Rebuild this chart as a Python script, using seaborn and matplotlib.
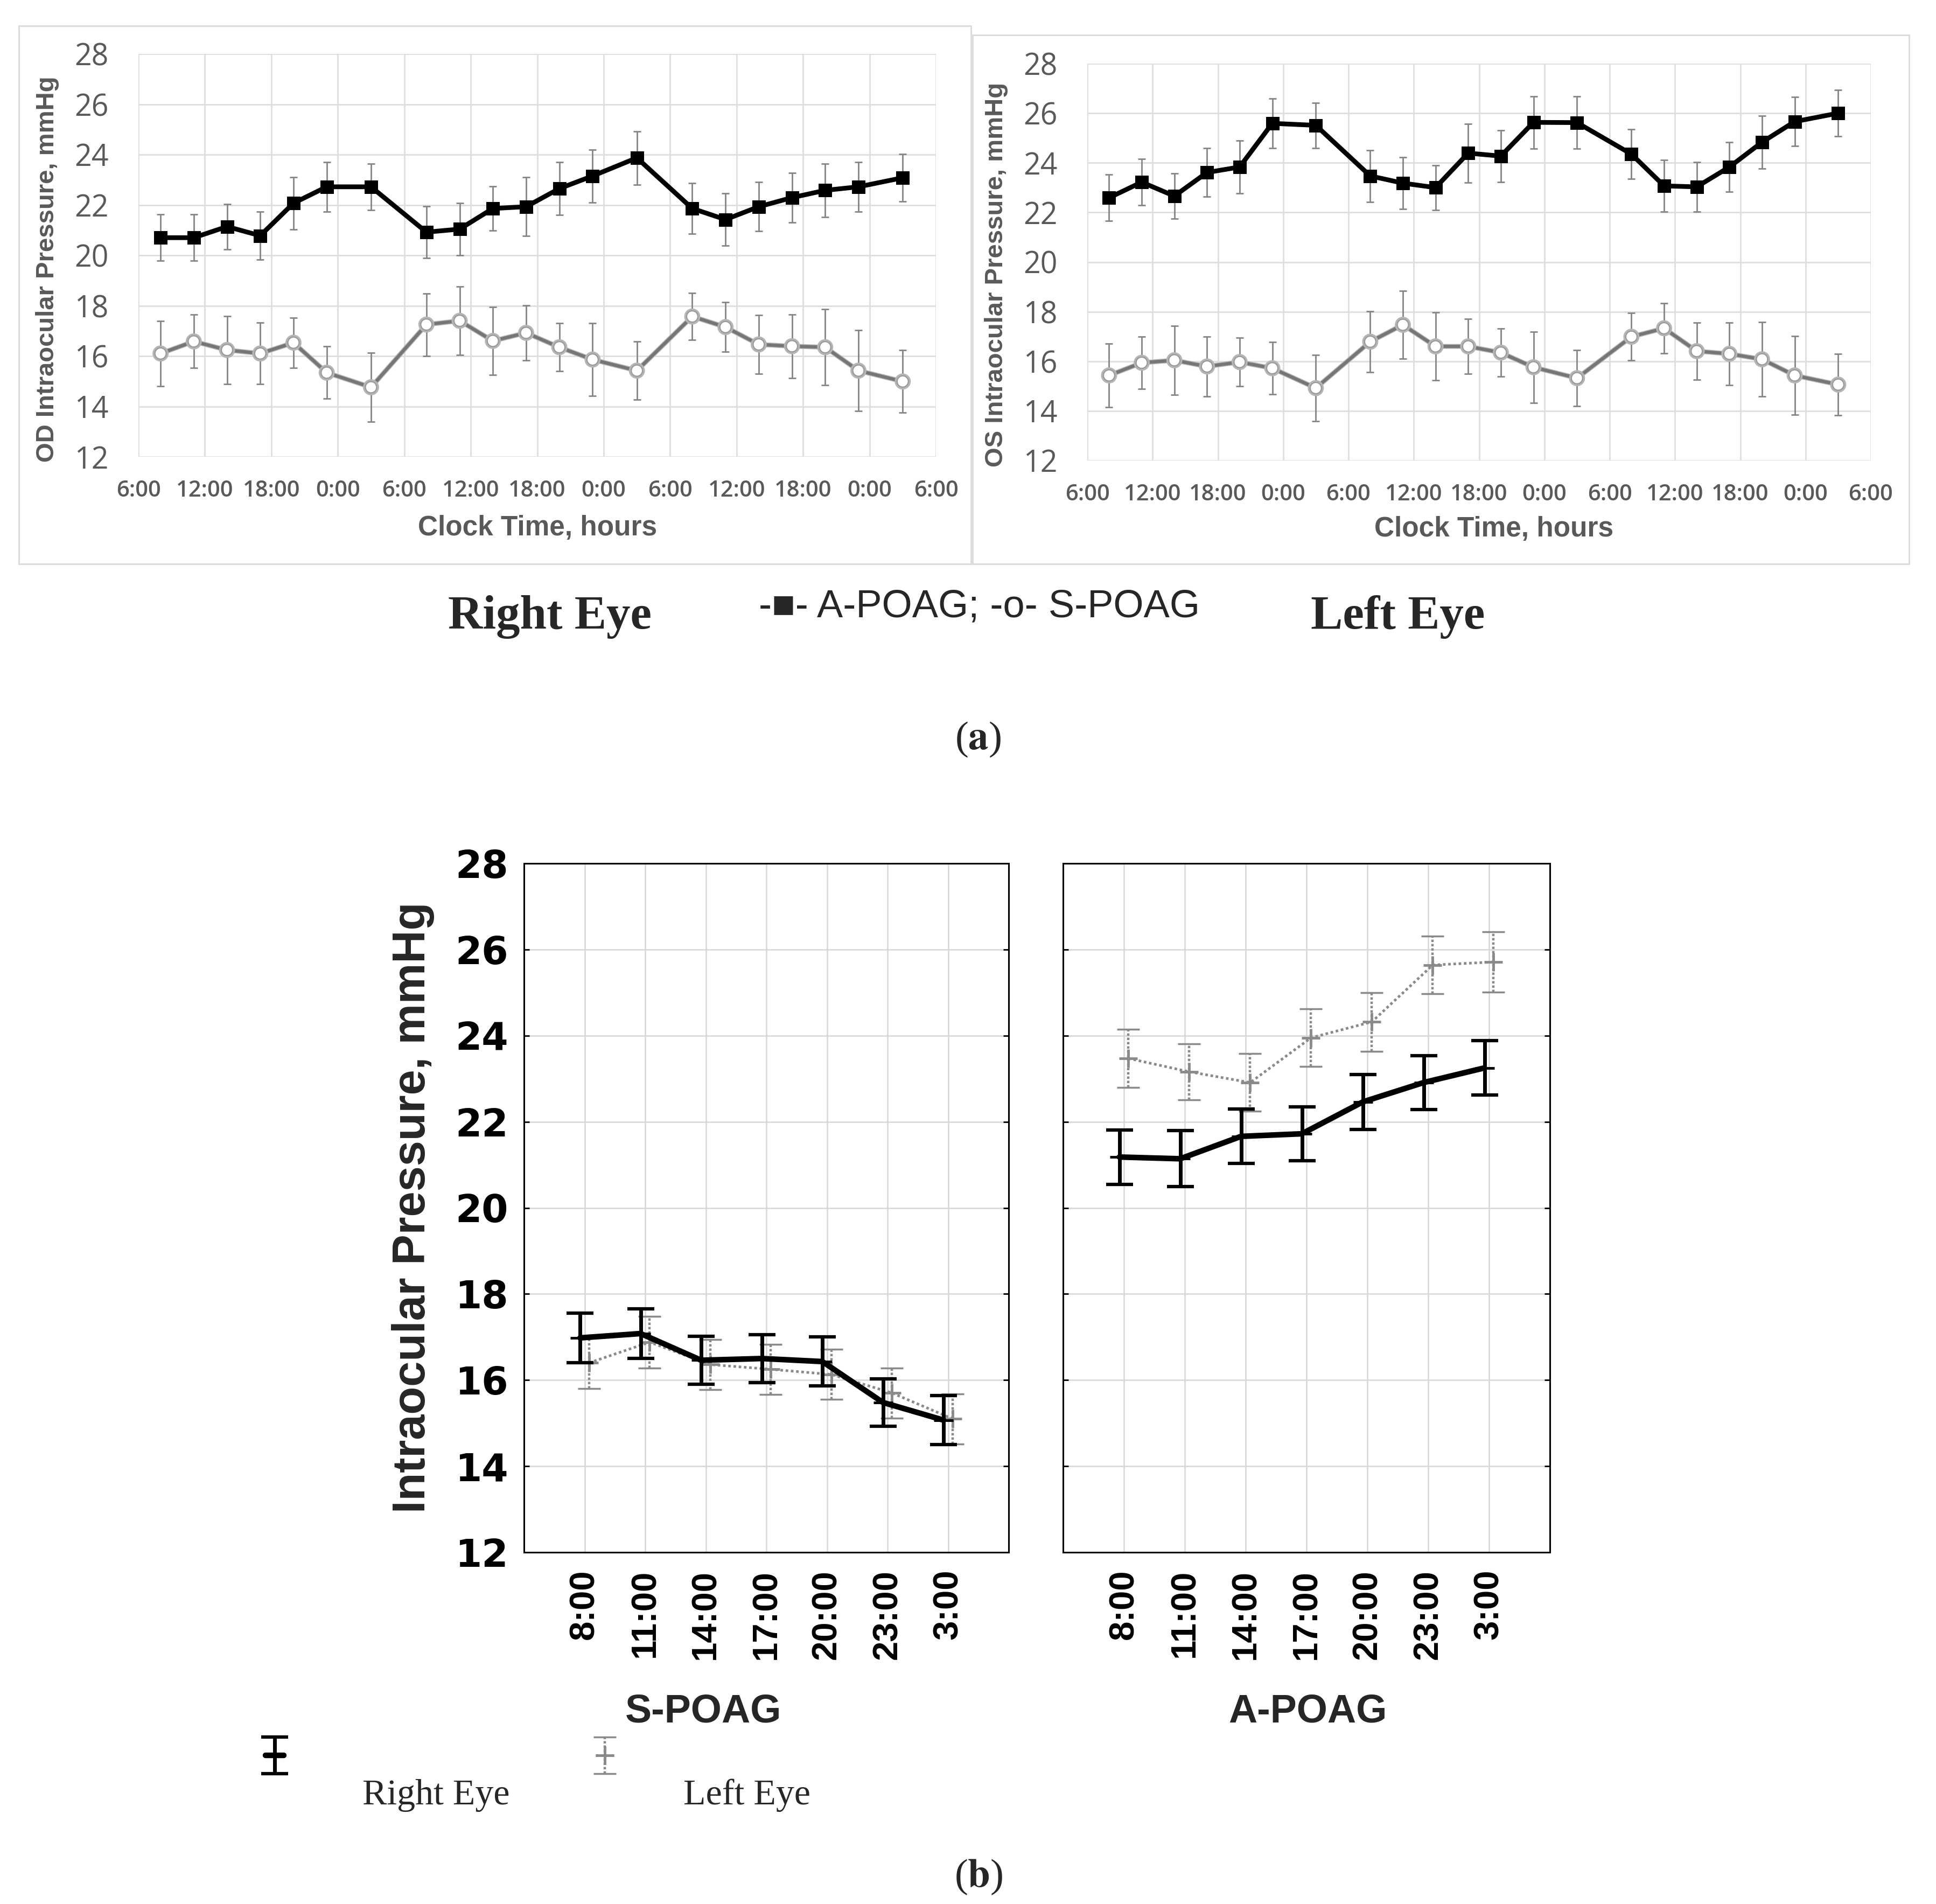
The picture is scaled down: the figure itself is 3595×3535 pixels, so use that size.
import numpy as np
import matplotlib
matplotlib.use("Agg")
import matplotlib.pyplot as plt
import matplotlib.patheffects as pe
from matplotlib.patches import Rectangle
from matplotlib.legend_handler import HandlerTuple
import seaborn as sns

# ---------------- data: panel (a) ----------------
# hours elapsed since 6:00 of day 1 (8:00, 11:00, 14:00, 17:00, 20:00, 23:00, 3:00 on 3 days)
hours_a = [2, 5, 8, 11, 14, 17, 21, 26, 29, 32, 35, 38, 41, 45, 50, 53, 56, 59, 62, 65, 69]
ticks_a = [0, 6, 12, 18, 24, 30, 36, 42, 48, 54, 60, 66, 72]
tick_labels_a = ["6:00", "12:00", "18:00", "0:00", "6:00", "12:00", "18:00",
                 "0:00", "6:00", "12:00", "18:00", "0:00", "6:00"]
yticks_a = [12, 14, 16, 18, 20, 22, 24, 26, 28]

od_apoag = [20.70, 20.70, 21.14, 20.78, 22.07, 22.72, 22.72, 20.92, 21.04, 21.86, 21.93,
            22.65, 23.15, 23.87, 21.86, 21.42, 21.93, 22.29, 22.58, 22.72, 23.08]
od_apoag_err = [0.92, 0.92, 0.90, 0.95, 1.04, 0.99, 0.92, 1.03, 1.04, 0.87, 1.17,
                1.04, 1.05, 1.06, 1.00, 1.04, 0.97, 0.99, 1.06, 0.99, 0.94]
od_spoag = [16.10, 16.58, 16.24, 16.10, 16.53, 15.34, 14.76, 17.25, 17.40, 16.60, 16.92,
            16.35, 15.86, 15.42, 17.57, 17.15, 16.46, 16.39, 16.35, 15.42, 14.99]
od_spoag_err = [1.30, 1.06, 1.35, 1.22, 0.99, 1.04, 1.37, 1.24, 1.35, 1.35, 1.10,
                0.95, 1.44, 1.15, 0.93, 0.98, 1.17, 1.26, 1.51, 1.60, 1.24]

os_apoag = [22.59, 23.22, 22.66, 23.61, 23.83, 25.59, 25.51, 23.47, 23.18, 23.00, 24.39,
            24.27, 25.63, 25.62, 24.35, 23.07, 23.03, 23.83, 24.83, 25.66, 26.00]
os_apoag_err = [0.94, 0.94, 0.91, 0.98, 1.06, 0.99, 0.91, 1.04, 1.04, 0.90, 1.18,
                1.04, 1.05, 1.05, 1.00, 1.04, 0.99, 1.00, 1.06, 0.99, 0.93]
os_spoag = [15.43, 15.94, 16.04, 15.79, 15.97, 15.72, 14.92, 16.79, 17.47, 16.60, 16.60,
            16.35, 15.76, 15.32, 16.99, 17.33, 16.41, 16.30, 16.08, 15.43, 15.06]
os_spoag_err = [1.29, 1.05, 1.39, 1.20, 0.98, 1.06, 1.34, 1.22, 1.37, 1.37, 1.11,
                0.96, 1.43, 1.12, 0.96, 1.01, 1.15, 1.26, 1.50, 1.59, 1.24]

# ---------------- data: panel (b) ----------------
times_b = ["8:00", "11:00", "14:00", "17:00", "20:00", "23:00", "3:00"]
yticks_b = [12, 14, 16, 18, 20, 22, 24, 26, 28]
sp_right = [16.98, 17.08, 16.46, 16.50, 16.43, 15.48, 15.07]
sp_right_err = [0.58, 0.58, 0.56, 0.56, 0.57, 0.55, 0.57]
sp_left = [16.40, 16.88, 16.36, 16.25, 16.13, 15.70, 15.10]
sp_left_err = [0.60, 0.60, 0.58, 0.58, 0.58, 0.58, 0.58]
ap_right = [21.18, 21.14, 21.66, 21.72, 22.46, 22.91, 23.25]
ap_right_err = [0.63, 0.65, 0.63, 0.62, 0.64, 0.63, 0.63]
ap_left = [23.47, 23.16, 22.91, 23.95, 24.32, 25.64, 25.71]
ap_left_err = [0.68, 0.65, 0.67, 0.67, 0.68, 0.67, 0.70]
legend_labels_b = ["Right Eye", "Left Eye"]

# ---------------- figure setup ----------------
sns.set_theme(style="white")
plt.rcParams["font.family"] = ["DejaVu Sans"]
plt.rcParams["mathtext.fontset"] = "stix"

W, H, DPI = 3595, 3535, 100
fig = plt.figure(figsize=(W / DPI, H / DPI), dpi=DPI)
fig.patch.set_facecolor("white")


def px_axes(x0, y0, x1, y1):
    return fig.add_axes([x0 / W, 1 - y1 / H, (x1 - x0) / W, (y1 - y0) / H])


def ftext(x, y, s, **kw):
    return fig.text(x / W, 1 - y / H, s, ha="center", va="center", **kw)


TICK_GRAY = "#595959"
SANS = ["Liberation Sans", "DejaVu Sans"]
SANS_NARROW = ["Liberation Sans Narrow", "Liberation Sans", "DejaVu Sans"]
SERIF = ["Liberation Serif", "DejaVu Serif"]
OPEN = ["Open Sans", "DejaVu Sans"]


def top_panel(frame, box, a_vals, a_err, s_vals, s_err, ylab, ylab_xy, xlab_xy):
    x0, y0, x1, y1 = frame
    fig.patches.append(Rectangle((x0 / W, 1 - y1 / H), (x1 - x0) / W, (y1 - y0) / H,
                                 transform=fig.transFigure, fill=False,
                                 ec="#dadada", lw=2.0, zorder=0))
    ax = px_axes(*box)
    ax.set_xlim(0, 72)
    ax.set_ylim(12, 28)
    ax.set_xticks(ticks_a)
    ax.set_xticklabels(tick_labels_a, family=OPEN, fontsize=30, fontweight="semibold",
                       color=TICK_GRAY)
    ax.set_yticks(yticks_a)
    ax.set_yticklabels([str(v) for v in yticks_a], family=OPEN,
                       fontsize=40, color=TICK_GRAY)
    ax.tick_params(axis="both", length=0)
    ax.tick_params(axis="y", pad=40)
    ax.tick_params(axis="x", pad=30)
    ax.grid(True, color="#dedede", lw=2.0)
    for s in ax.spines.values():
        s.set_visible(False)
    ax.set_axisbelow(True)

    ax.errorbar(hours_a, s_vals, yerr=s_err, fmt="none", ecolor="#858585",
                elinewidth=2.0, capsize=5, capthick=2.0, zorder=2)
    ax.errorbar(hours_a, a_vals, yerr=a_err, fmt="none", ecolor="#858585",
                elinewidth=2.0, capsize=5, capthick=2.0, zorder=2)
    sns.lineplot(x=hours_a, y=s_vals, ax=ax, color="#767676", lw=4.3, marker="o",
                 markersize=15, markerfacecolor="white", markeredgecolor="#9a9a9a",
                 markeredgewidth=1.6, zorder=3,
                 path_effects=[pe.Stroke(linewidth=6.5, foreground="#b5b5b5"), pe.Normal()])
    sns.lineplot(x=hours_a, y=a_vals, ax=ax, color="black", lw=6.3, marker="s",
                 markersize=17.5, markerfacecolor="black", markeredgecolor="black", zorder=4)
    ax.set_xlabel("")
    ax.set_ylabel("")
    ftext(*ylab_xy, ylab, rotation=90, fontsize=34, fontweight="bold",
          color=TICK_GRAY, family=SANS)
    ftext(*xlab_xy, "Clock Time, hours", fontsize=37, fontweight="bold",
          color=TICK_GRAY, family=SANS)
    return ax


top_panel((35, 48, 1803, 1047), (257, 100, 1738, 848), od_apoag, od_apoag_err,
          od_spoag, od_spoag_err, "OD Intraocular Pressure, mmHg", (88, 500), (998, 980))
top_panel((1806, 65, 3545, 1047), (2019, 118, 3474, 855), os_apoag, os_apoag_err,
          os_spoag, os_spoag_err, "OS Intraocular Pressure, mmHg", (1850, 510), (2774, 982))

ftext(1021, 1146, "Right Eye", fontsize=64, fontweight="bold", family=SERIF)
ftext(2596, 1146, "Left Eye", fontsize=64, fontweight="bold", family=SERIF)
ftext(1818, 1127, "-\u25a0- A-POAG; -o- S-POAG", fontsize=52, family=SANS_NARROW)
ftext(1816, 1373, r"($\mathbf{a}$)", fontsize=54, family=SERIF)


# ---------------- panel (b) ----------------
def bottom_panel(box, r_vals, r_err, l_vals, l_err, show_y):
    ax = px_axes(*box)
    xpos = np.arange(len(times_b))
    ax.set_xlim(-1, 7)
    ax.set_ylim(12, 28)
    ax.set_xticks(xpos)
    ax.set_xticklabels(times_b, rotation=90, family=SANS_NARROW, fontweight="bold",
                       fontsize=47, color="black")
    ax.set_yticks(yticks_b)
    if show_y:
        ax.set_yticklabels([str(v) for v in yticks_b], family=["DejaVu Sans"],
                           fontweight="bold", fontsize=51, color="black")
    else:
        ax.set_yticklabels([])
    ax.grid(True, color="#d6d6d6", lw=1.8)
    ax.set_axisbelow(True)
    for s in ax.spines.values():
        s.set_visible(True)
        s.set_color("black")
        s.set_linewidth(2.2)
    ax.tick_params(axis="y", direction="in", length=7, width=2, left=True, right=True,
                   pad=21, color="black")
    ax.tick_params(axis="x", length=0, pad=23)

    eb_l = ax.errorbar(xpos + 0.075, l_vals, yerr=l_err, fmt="none", ecolor="#8a8a8a",
                       elinewidth=3.2, capsize=15, capthick=2.5, zorder=2)
    eb_l[2][0].set_linestyle((0, (1.0, 0.8)))
    sns.lineplot(x=xpos + 0.075, y=l_vals, ax=ax, color="#8a8a8a", lw=3.5,
                 linestyle=(0, (1.0, 1.0)), marker="+", markersize=24,
                 markeredgewidth=3.5, markeredgecolor="#8a8a8a", zorder=3)
    line_l = ax.lines[-1]
    eb_r = ax.errorbar(xpos - 0.075, r_vals, yerr=r_err, fmt="none", ecolor="black",
                       elinewidth=5.0, capsize=18, capthick=4.5, zorder=4)
    sns.lineplot(x=xpos - 0.075, y=r_vals, ax=ax, color="black", lw=7.5, marker="+",
                 markersize=26, markeredgewidth=3.5, markeredgecolor="black", zorder=5)
    line_r = ax.lines[-1]
    ax.set_xlabel("")
    ax.set_ylabel("")
    return ax, (eb_r, line_r), (eb_l, line_l)


ax_s, h_r, h_l = bottom_panel((973, 1603, 1873, 2882), sp_right, sp_right_err,
                              sp_left, sp_left_err, True)
ax_a, _, _ = bottom_panel((1974, 1603, 2878, 2882), ap_right, ap_right_err,
                          ap_left, ap_left_err, False)

ftext(767, 2242, "Intraocular Pressure, mmHg", rotation=90, fontsize=61,
      fontweight="bold", family=SANS)
ftext(1306, 3178, "S-POAG", fontsize=53, fontweight="bold", family=SANS)
ftext(2428, 3178, "A-POAG", fontsize=53, fontweight="bold", family=SANS)

# legend icons (handles only) with the labels set below-right, as in the original
leg = fig.legend([h_r, h_l], ["", ""], ncol=2, loc="center left",
                 bbox_to_anchor=(493 / W, 1 - 3266 / H), frameon=False,
                 prop={"family": SERIF, "size": 49}, handlelength=0.5,
                 handletextpad=0.0, columnspacing=8.5, borderpad=0, borderaxespad=0,
                 handler_map={tuple: HandlerTuple(ndivide=1)})
ftext(810, 3333, legend_labels_b[0], fontsize=49, family=SERIF)
ftext(1387, 3333, legend_labels_b[1], fontsize=49, family=SERIF)

ftext(1817, 3485, r"($\mathbf{b}$)", fontsize=54, family=SERIF)

fig.savefig("out.png", dpi=DPI, facecolor="white")
